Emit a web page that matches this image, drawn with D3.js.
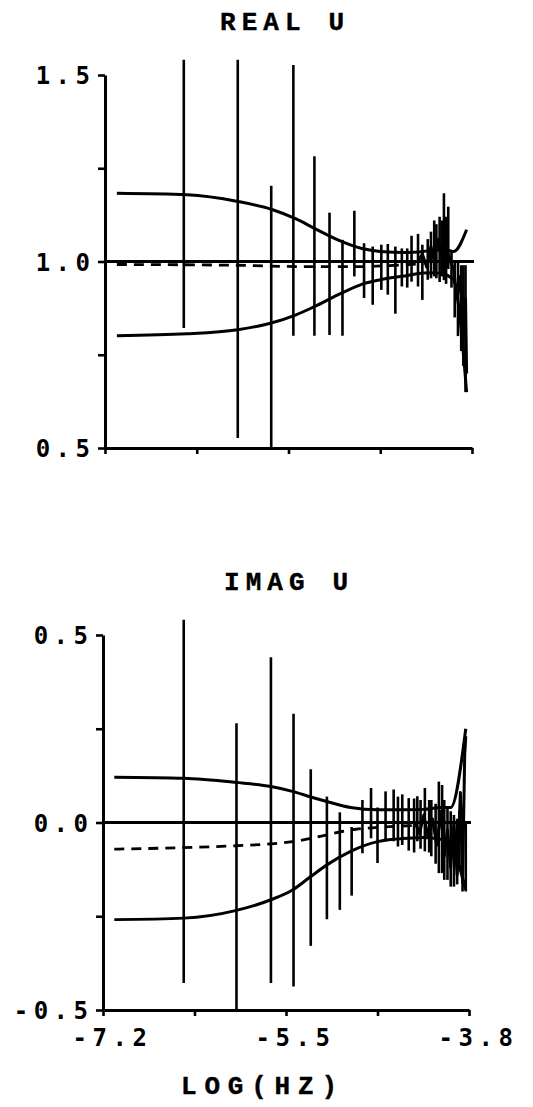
<!DOCTYPE html>
<html>
<head>
<meta charset="utf-8">
<script src="https://cdn.jsdelivr.net/npm/d3@7"></script>
<style>
  body { margin: 0; background: #fff; }
  svg { display: block; }
</style>
</head>
<body>
<svg id="chart" width="533" height="1107"></svg>
<script>
// ---------- shared axis values ----------
const xTicks = [-7.2, -6.35, -5.5, -4.65, -3.8];
const xTickLabels = ["-7.2", "", "-5.5", "", "-3.8"];
const xTitle = "LOG(HZ)";

// ---------- REAL U ----------
const realTitle = "REAL U";
const realYTicks = [0.5, 0.75, 1.0, 1.25, 1.5];
const realYTickLabels = ["0.5", "", "1.0", "", "1.5"];
const realRef = 1.0;
const realEnvX = [-7.09, -6.44, -5.97, -5.66, -5.43, -5.26, -5.01, -4.81, -4.65, -4.41, -4.25, -4.16, -4.06, -3.97, -3.85];
const realUpper = [1.183, 1.179, 1.161, 1.140, 1.114, 1.089, 1.054, 1.034, 1.027, 1.024, 1.027, 1.030, 1.032, 1.027, 1.085];
const realLower = [0.801, 0.806, 0.817, 0.835, 0.857, 0.879, 0.915, 0.940, 0.951, 0.962, 0.969, 0.970, 0.966, 0.950, 0.650];
const realModelX = [-7.09, -6.0, -5.3, -4.9, -4.5, -4.25];
const realModel = [0.992, 0.990, 0.986, 0.986, 0.990, 0.994];
const realBarX = [-6.47, -5.97, -5.66, -5.455, -5.26, -5.12, -5.00, -4.89, -4.80, -4.72, -4.64, -4.58, -4.51, -4.45, -4.40,
                  -4.36, -4.30, -4.26, -4.21, -4.18, -4.15, -4.13, -4.10, -4.08, -4.06, -4.04, -4.02, -3.99, -3.96, -3.93,
                  -3.90, -3.88, -3.86];
const realBarLo = [0.822, 0.527, 0.500, 0.801, 0.801, 0.803, 0.801, 0.960, 0.902, 0.884, 0.924, 0.911, 0.860, 0.933, 0.930,
                   0.946, 0.933, 0.897, 0.951, 0.955, 0.960, 0.955, 0.945, 0.960, 0.950, 0.940, 0.980, 0.930, 0.850, 0.800,
                   0.760, 0.720, 0.650];
const realBarHi = [1.541, 1.541, 1.203, 1.527, 1.282, 1.131, 1.058, 1.136, 1.049, 1.040, 1.045, 1.047, 1.040, 1.035, 1.035,
                   1.069, 1.074, 1.045, 1.060, 1.080, 1.110, 1.100, 1.120, 1.110, 1.183, 1.120, 1.147, 1.030, 1.000, 1.000,
                   0.990, 0.990, 0.990];
const realTraceX = [-4.30, -4.26, -4.22, -4.18, -4.15, -4.12, -4.09, -4.06, -4.03, -4.00, -3.97, -3.94, -3.91, -3.88, -3.86, -3.85];
const realTrace = [1.000, 1.020, 0.985, 1.040, 1.000, 1.060, 1.020, 1.080, 1.030, 1.000, 0.980, 0.900, 0.960, 0.800, 0.900, 0.700];

// ---------- IMAG U ----------
const imagTitle = "IMAG U";
const imagYTicks = [-0.5, -0.25, 0.0, 0.25, 0.5];
const imagYTickLabels = ["-0.5", "", "0.0", "", "0.5"];
const imagRef = 0.0;
const imagEnvX = [-7.095, -6.45, -5.97, -5.64, -5.44, -5.27, -5.12, -4.90, -4.65, -4.37, -4.22, -4.06, -3.97, -3.83];
const imagUpper = [0.121, 0.118, 0.107, 0.096, 0.083, 0.068, 0.056, 0.040, 0.034, 0.034, 0.035, 0.040, 0.040, 0.250];
const imagLower = [-0.259, -0.255, -0.235, -0.206, -0.180, -0.144, -0.113, -0.077, -0.051, -0.042, -0.040, -0.045, -0.060, -0.180];
const imagModelX = [-7.095, -5.97, -5.64, -5.44, -5.12, -4.98, -4.85, -4.6, -4.3];
const imagModel = [-0.071, -0.062, -0.057, -0.051, -0.033, -0.024, -0.018, -0.012, -0.008];
const imagBarX = [-6.45, -5.96, -5.64, -5.43, -5.27, -5.12, -5.00, -4.89, -4.79, -4.71, -4.65, -4.575, -4.50, -4.46, -4.42,
                  -4.36, -4.31, -4.28, -4.25, -4.21, -4.17, -4.15, -4.11, -4.08, -4.05, -4.03, -4.00, -3.97, -3.94, -3.91,
                  -3.89, -3.86, -3.83];
const imagBarLo = [-0.428, -0.500, -0.428, -0.437, -0.329, -0.258, -0.233, -0.195, -0.082, -0.042, -0.108, -0.050, -0.050, -0.064, -0.060,
                   -0.075, -0.080, -0.050, -0.070, -0.077, -0.080, -0.090, -0.110, -0.135, -0.135, -0.153, -0.153, -0.171, -0.171, -0.165,
                   -0.120, -0.184, -0.184];
const imagBarHi = [0.541, 0.265, 0.441, 0.290, 0.142, 0.069, 0.027, -0.012, 0.060, 0.092, 0.040, 0.083, 0.088, 0.069, 0.075,
                   0.065, 0.064, 0.070, 0.060, 0.092, 0.060, 0.060, 0.050, 0.109, 0.100, 0.060, 0.040, 0.030, 0.020, 0.010,
                   0.030, 0.020, 0.000];
const imagTraceX = [-4.30, -4.26, -4.22, -4.18, -4.14, -4.10, -4.06, -4.03, -4.00, -3.97, -3.94, -3.91, -3.88, -3.86, -3.84, -3.83];
const imagTrace = [0.000, -0.030, 0.020, -0.040, 0.010, -0.060, 0.030, -0.090, -0.020, -0.120, 0.000, -0.140, 0.080, -0.160, 0.180, 0.230];

// ---------- drawing ----------
const svg = d3.select("#chart");
const ink = "#000";
const tickFont = "'DejaVu Sans Mono', monospace";
const titleFont = "'Liberation Mono', 'DejaVu Sans Mono', monospace";

function addTitle(g, text, cx, baseline, width) {
  g.append("text")
    .attr("x", cx - width / 2).attr("y", baseline)
    .attr("textLength", width).attr("lengthAdjust", "spacing")
    .attr("font-family", titleFont).attr("font-weight", "bold")
    .attr("font-size", 26)
    .attr("stroke", ink).attr("stroke-width", 0.4)
    .attr("fill", ink)
    .text(text);
}

function drawPanel(p) {
  const x = d3.scaleLinear().domain([-7.2, -3.8]).range([p.left, p.right]);
  const y = d3.scaleLinear().domain(p.yDomain).range([p.bottom, p.top]);
  const g = svg.append("g");

  addTitle(g, p.title, p.titleX, p.titleY, 124);

  // error bars
  const bars = p.barX.map((v, i) => ({ x: v, lo: p.barLo[i], hi: p.barHi[i] }));
  g.append("g").selectAll("line").data(bars).join("line")
    .attr("x1", d => x(d.x)).attr("x2", d => x(d.x))
    .attr("y1", d => y(d.lo)).attr("y2", d => y(d.hi))
    .attr("stroke", ink).attr("stroke-width", 2.6);

  // reference line
  g.append("line")
    .attr("x1", x(-7.2)).attr("x2", x(-3.8) + 2)
    .attr("y1", y(p.ref)).attr("y2", y(p.ref))
    .attr("stroke", ink).attr("stroke-width", 2.8);

  const smooth = d3.line().x(d => x(d[0])).y(d => y(d[1])).curve(d3.curveMonotoneX);
  const straight = d3.line().x(d => x(d[0])).y(d => y(d[1]));

  // model (dashed)
  g.append("path")
    .attr("d", smooth(p.modelX.map((v, i) => [v, p.model[i]])))
    .attr("fill", "none").attr("stroke", ink).attr("stroke-width", 2.8)
    .attr("stroke-dasharray", "10,7");

  // confidence envelope
  [p.upper, p.lower].forEach(arr => {
    g.append("path")
      .attr("d", smooth(p.envX.map((v, i) => [v, arr[i]])))
      .attr("fill", "none").attr("stroke", ink).attr("stroke-width", 3);
  });

  // high-frequency estimate trace
  g.append("path")
    .attr("d", straight(p.traceX.map((v, i) => [v, p.trace[i]])))
    .attr("fill", "none").attr("stroke", ink).attr("stroke-width", 3)
    .attr("stroke-linejoin", "round");

  // y axis
  const yAxis = d3.axisLeft(y).tickValues(p.yTicks)
    .tickFormat((d, i) => p.yTickLabels[i]).tickSize(7).tickSizeOuter(0).tickPadding(8);
  const ya = g.append("g").attr("transform", `translate(${p.left},0)`).call(yAxis);
  ya.select(".domain").attr("stroke", ink).attr("stroke-width", 3);
  ya.selectAll(".tick line").attr("stroke", ink).attr("stroke-width", 2.6);
  ya.selectAll(".tick text")
    .attr("font-family", tickFont).attr("font-weight", "bold")
    .attr("font-size", 24).attr("letter-spacing", 5.5)
    .attr("fill", ink).attr("dy", "0.36em").attr("dx", 5.5);

  // x axis
  const xAxis = d3.axisBottom(x).tickValues(xTicks)
    .tickFormat((d, i) => p.showXLabels ? xTickLabels[i] : "")
    .tickSize(6).tickSizeOuter(0).tickPadding(13);
  const xa = g.append("g").attr("transform", `translate(0,${p.bottom})`).call(xAxis);
  xa.select(".domain").attr("stroke", ink).attr("stroke-width", 3);
  xa.selectAll(".tick line").attr("stroke", ink).attr("stroke-width", 2.6);
  xa.selectAll(".tick text")
    .attr("font-family", tickFont).attr("font-weight", "bold")
    .attr("font-size", 24).attr("letter-spacing", 5.5)
    .attr("fill", ink).attr("dx", 9);

  if (p.showXLabels) {
    addTitle(g, xTitle, p.xTitleX, p.xTitleY, 156);
  }
}

drawPanel({
  title: realTitle, titleX: 282, titleY: 30,
  left: 105, right: 472, top: 75, bottom: 448, yDomain: [0.5, 1.5],
  yTicks: realYTicks, yTickLabels: realYTickLabels, ref: realRef,
  envX: realEnvX, upper: realUpper, lower: realLower,
  modelX: realModelX, model: realModel,
  barX: realBarX, barLo: realBarLo, barHi: realBarHi,
  traceX: realTraceX, trace: realTrace,
  showXLabels: false
});

drawPanel({
  title: imagTitle, titleX: 286, titleY: 590,
  left: 103, right: 469, top: 635, bottom: 1010, yDomain: [-0.5, 0.5],
  yTicks: imagYTicks, yTickLabels: imagYTickLabels, ref: imagRef,
  envX: imagEnvX, upper: imagUpper, lower: imagLower,
  modelX: imagModelX, model: imagModel,
  barX: imagBarX, barLo: imagBarLo, barHi: imagBarHi,
  traceX: imagTraceX, trace: imagTrace,
  showXLabels: true, xTitleX: 259, xTitleY: 1094
});
</script>
</body>
</html>
